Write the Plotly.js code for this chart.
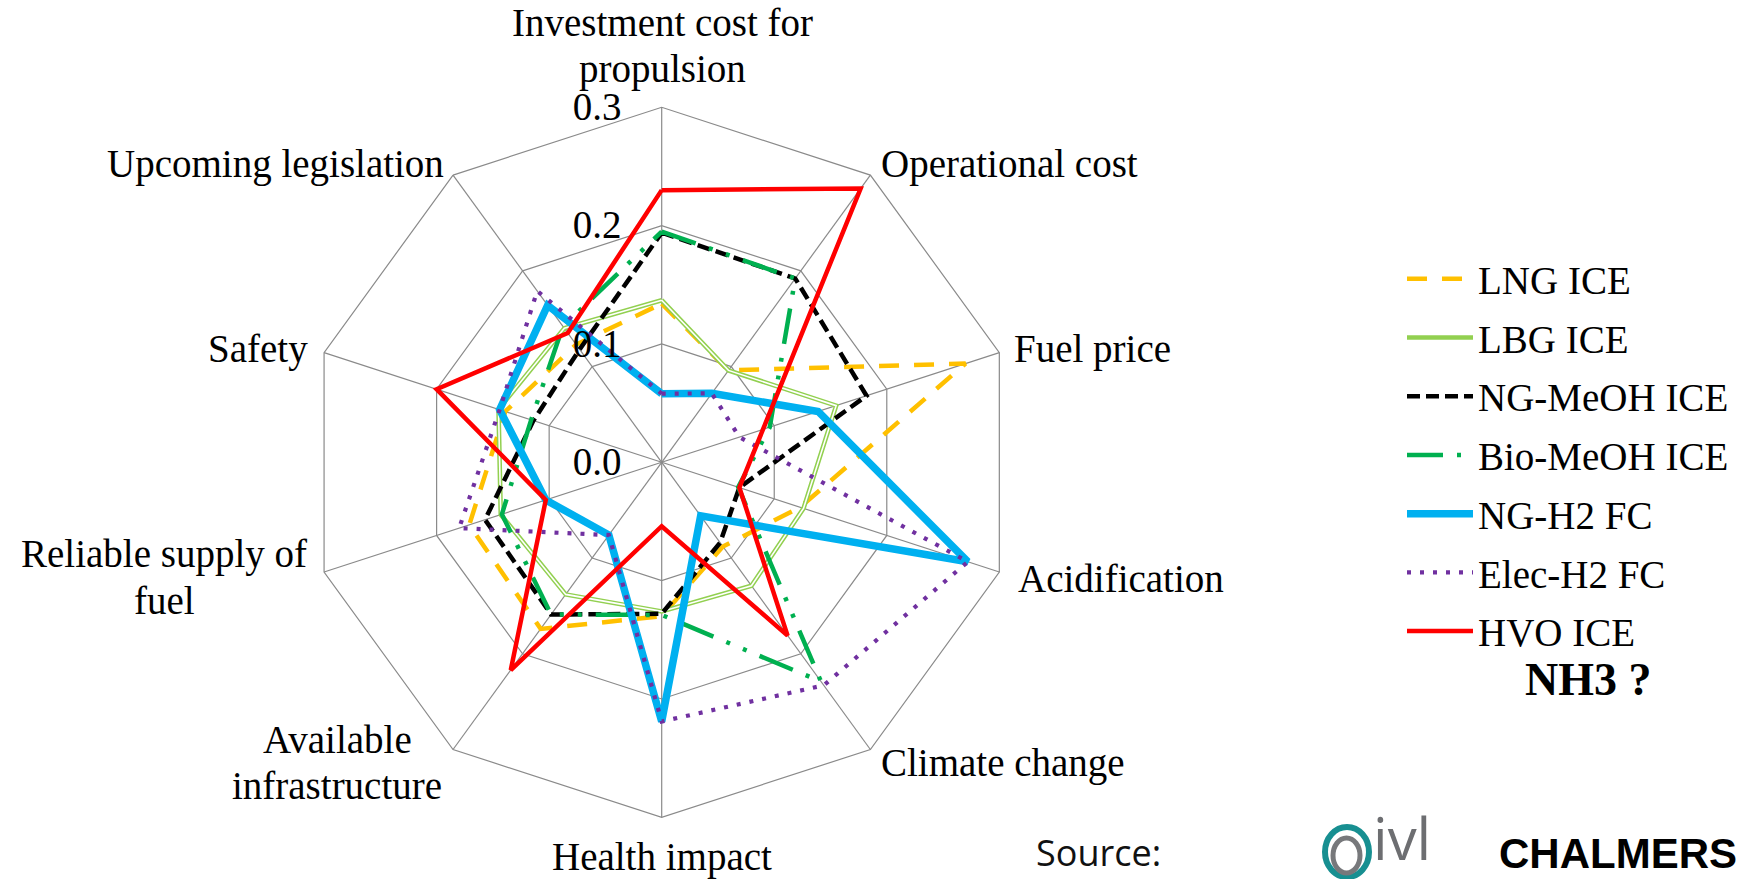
<!DOCTYPE html>
<html><head><meta charset="utf-8">
<script src="https://cdn.plot.ly/plotly-3.0.1.min.js"></script>
<style>html,body{margin:0;padding:0;background:#fff;overflow:hidden;width:1739px;height:879px}
#wrap{position:relative;width:1739px;height:879px;overflow:hidden}
#chart{width:1739px;height:879px;}</style>
</head><body><div id="wrap"><div id="chart"></div></div>
<script>
// ---------- data ----------
const categories = ["Investment cost for<br>propulsion", "Operational cost", "Fuel price", "Acidification",
  "Climate change", "Health impact", "Available<br>infrastructure", "Reliable supply of<br>fuel",
  "Safety", "Upcoming legislation"];
const radialTicks = [0.0, 0.1, 0.2, 0.3];
const seriesNames = ["LNG ICE", "LBG ICE", "NG-MeOH ICE", "Bio-MeOH ICE", "NG-H2 FC", "Elec-H2 FC", "HVO ICE"];
const lngICE     = [0.134, 0.096, 0.270, 0.123, 0.088, 0.130, 0.174, 0.171, 0.139, 0.123];
const lbgICE     = [0.137, 0.096, 0.155, 0.126, 0.129, 0.126, 0.138, 0.143, 0.145, 0.140];
const ngMeohICE  = [0.194, 0.192, 0.182, 0.069, 0.084, 0.128, 0.159, 0.157, 0.114, 0.118];
const bioMeohICE = [0.195, 0.192, 0.096, 0.068, 0.229, 0.129, 0.159, 0.142, 0.116, 0.142];
const ngH2FC     = [0.058, 0.072, 0.139, 0.272, 0.056, 0.219, 0.076, 0.103, 0.144, 0.164];
const elecH2FC   = [0.058, 0.072, 0.069, 0.272, 0.233, 0.219, 0.076, 0.180, 0.144, 0.179];
const hvoICE     = [0.230, 0.286, 0.090, 0.069, 0.181, 0.054, 0.217, 0.103, 0.200, 0.135];
const seriesValues = [lngICE, lbgICE, ngMeohICE, bioMeohICE, ngH2FC, elecH2FC, hvoICE];
const extraNote = "NH3 ?";

// ---------- styles ----------
const W = 1739, H = 879;
const serif = "Liberation Serif, Times New Roman, serif";
const FS = 39;
const LINE_GAP = 46.5; // px between lines of a wrapped category label
const styles = [
  {color: "#FFC000", width: 4.5, dash: "20px,15px"},
  {color: "#92D050", width: 4.6, dash: "solid"},
  {color: "#000000", width: 4.5, dash: "13px,6px"},
  {color: "#00B050", width: 4.5, dash: "36px,14px,4px,14px,4px,14px"},
  {color: "#00B0F0", width: 7.5, dash: "solid"},
  {color: "#7030A0", width: 4.2, dash: "4px,9px"},
  {color: "#FF0000", width: 4.5, dash: "solid"}
];

function closeLoop(arr) { return arr.concat([arr[0]]); }

const traces = [];
seriesValues.forEach((vals, i) => {
  traces.push({
    type: "scatterpolar", mode: "lines", name: seriesNames[i],
    r: closeLoop(vals), theta: closeLoop(categories),
    line: {color: styles[i].color, width: styles[i].width, dash: styles[i].dash},
    legendgroup: "g" + i, hoverinfo: "skip"
  });
  if (i === 1) { // double-line look for LBG
    traces.push({
      type: "scatterpolar", mode: "lines", name: seriesNames[i] + " inner", showlegend: false,
      r: closeLoop(vals), theta: closeLoop(categories),
      line: {color: "#FFFFFF", width: 1.6}, legendgroup: "g" + i, hoverinfo: "skip"
    });
  }
});

// label placement (pixels) for each category: anchor point of the label block
const labelPos = [
  {x: 662, y: 45.5, xa: "center"},
  {x: 879, y: 164, xa: "left"},
  {x: 1012, y: 349, xa: "left"},
  {x: 1016, y: 578, xa: "left"},
  {x: 879, y: 763, xa: "left"},
  {x: 662, y: 857, xa: "center"},
  {x: 337, y: 762.5, xa: "center"},
  {x: 164, y: 577.3, xa: "center"},
  {x: 310, y: 349, xa: "right"},
  {x: 446, y: 164, xa: "right"}
];
const px = x => x / W, py = y => 1 - y / H;
const annotations = [];
categories.forEach((c, i) => {
  const lines = c.split("<br>");
  lines.forEach((ln, k) => {
    const yy = labelPos[i].y + (k - (lines.length - 1) / 2) * LINE_GAP;
    annotations.push({
      xref: "paper", yref: "paper", x: px(labelPos[i].x), y: py(yy),
      xanchor: labelPos[i].xa, yanchor: "middle", align: "center", showarrow: false,
      text: ln, font: {family: serif, size: FS, color: "#000"}
    });
  });
});
annotations.push({xref: "paper", yref: "paper", x: px(1588), y: py(679), xanchor: "center", yanchor: "middle",
  showarrow: false, text: "<b>" + extraNote + "</b>", font: {family: serif, size: 46, color: "#000"}});
annotations.push({xref: "paper", yref: "paper", x: px(1034), y: 0, xanchor: "left", yanchor: "bottom",
  showarrow: false, text: "Source:", font: {family: "Open Sans, sans-serif", size: 36, color: "#111"}});
annotations.push({xref: "paper", yref: "paper", x: px(1371), y: 0, xanchor: "left", yanchor: "bottom",
  showarrow: false, text: "ivl", font: {family: "Open Sans, sans-serif", size: 58, color: "#6d6e71"}});
annotations.push({xref: "paper", yref: "paper", x: px(1497), y: 0, xanchor: "left", yanchor: "bottom",
  showarrow: false, text: "<b>CHALMERS</b>", font: {family: "Liberation Sans, Arial, sans-serif", size: 42, color: "#000"}});

const shapes = [
  {type: "circle", xref: "paper", yref: "paper", x0: px(1325), x1: px(1369), y0: py(877), y1: py(827),
   line: {color: "#178f91", width: 6}},
  {type: "circle", xref: "paper", yref: "paper", x0: px(1333), x1: px(1360), y0: py(873), y1: py(838),
   line: {color: "#77787b", width: 5}}
];

const R = 355, cx = 661.7, cy = 462.3;
const layout = {
  width: W, height: H, margin: {l: 0, r: 0, t: 0, b: 0},
  paper_bgcolor: "#fff", showlegend: true,
  font: {family: serif, size: FS, color: "#000"},
  polar: {
    domain: {x: [px(cx - R), px(cx + R)], y: [py(cy + R), py(cy - R)]},
    bgcolor: "#fff", gridshape: "linear",
    angularaxis: {type: "category", categoryarray: categories, direction: "clockwise", rotation: 90,
      showticklabels: false, ticks: "", showline: true, linecolor: "#8a8a8a", linewidth: 1.2,
      gridcolor: "#8a8a8a", gridwidth: 1.2},
    radialaxis: {range: [0, 0.3], tickvals: radialTicks, tickformat: ".1f", angle: 90, tickangle: 90,
      side: "counterclockwise", showline: false, ticks: "outside", ticklen: 26, tickcolor: "rgba(0,0,0,0)",
      gridcolor: "#8a8a8a", gridwidth: 1.2, tickfont: {family: serif, size: FS, color: "#000"}}
  },
  legend: {x: px(1402), y: py(247), xanchor: "left", yanchor: "top", font: {family: serif, size: FS},
    bgcolor: "rgba(0,0,0,0)", itemwidth: 66, tracegroupgap: 5},
  annotations: annotations, shapes: shapes
};

Plotly.newPlot("chart", traces, layout, {staticPlot: true, displayModeBar: false});
</script></body></html>
